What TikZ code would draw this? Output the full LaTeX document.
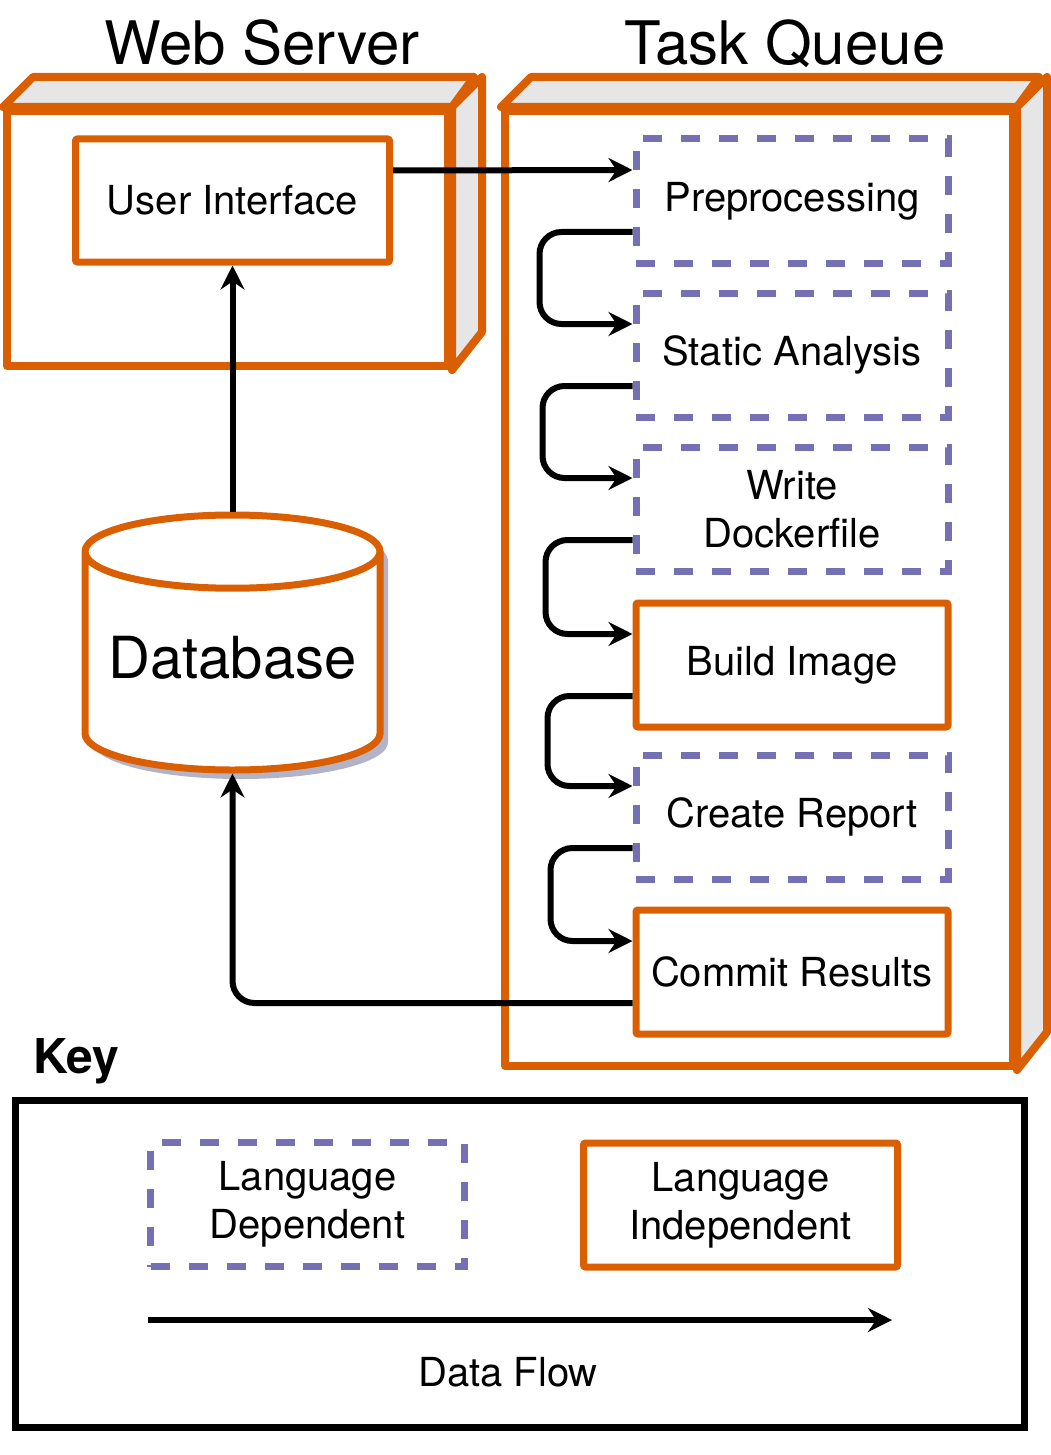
\documentclass[tikz,border=0pt]{standalone}
\usepackage{fontspec}
\setmainfont{TeX Gyre Heros}
\usetikzlibrary{arrows.meta,shapes.geometric,shadows}
\definecolor{dforange}{HTML}{D95F02}
\definecolor{dfpurple}{HTML}{7570B3}
\definecolor{dfgray}{HTML}{E6E6E6}
\definecolor{dbshadow}{RGB}{178,178,200}

\begin{document}
\begin{tikzpicture}[x=0.5pt, y=-0.5pt,
  tasknode/.style={draw=dforange, line width=3.5pt, rounded corners=1pt, minimum width=156pt, minimum height=62pt, inner sep=0pt, align=center, font=\fontsize{20}{24}\selectfont},
  dashnode/.style={tasknode, draw=dfpurple, rounded corners=0pt, dash pattern=on 9.5pt off 9.5pt},
  frontface/.style={draw=dforange, line width=4pt, fill=white, inner sep=0pt, line join=round},
  sideface/.style={draw=dforange, line width=4pt, fill=dfgray, line join=round},
  flow/.style={-{Stealth[length=12pt,width=12pt,inset=4pt]}, line width=3pt, rounded corners=11pt},
  titlenode/.style={anchor=base, font=\fontsize{30}{36}\selectfont}]
\useasboundingbox (0,0) rectangle (1050,1455);
% Titles
\node[titlenode] (wstitle) at (262,65) {Web Server};
\node[titlenode] (tqtitle) at (785,65) {Task Queue};
% Web server box
\node[frontface, minimum width=220.5pt, minimum height=127.5pt] (ws) at (227.5,238.5) {};
\draw[sideface] (ws.north west) -- ++(30,-30) -- ++(441,0) -- (ws.north east) -- cycle;
\draw[sideface] (ws.north east) -- ++(30,-30) -- ++(0,255) -- (ws.south east) -- cycle;
% Task queue box
\node[frontface, minimum width=254pt, minimum height=477.5pt] (tq) at (759,588.5) {};
\draw[sideface] (tq.north west) -- ++(30,-30) -- ++(508,0) -- (tq.north east) -- cycle;
\draw[sideface] (tq.north east) -- ++(30,-30) -- ++(0,955) -- (tq.south east) -- cycle;
% User interface and database
\node[tasknode, minimum width=157pt, minimum height=61.5pt] (ui) at (232.5,200.5) {User Interface};
\node[cylinder, shape border rotate=90, aspect=0.28, draw=dforange, line width=3.5pt, fill=white,
  minimum width=147.5pt, minimum height=127.5pt, font=\fontsize{29}{34}\selectfont, text depth=11pt, anchor=shape center,
  drop shadow={shadow xshift=4pt, shadow yshift=-4.5pt, fill=dbshadow, opacity=1}] (db) at (232.5,642.5) {Database};
% Tasks
\node[dashnode] (pre) at (792,201) {Preprocessing};
\node[dashnode] (sa) at (792,355) {Static Analysis};
\node[dashnode] (wd) at (792,509) {Write\\Dockerfile};
\node[tasknode] (bi) at (792,665) {Build Image};
\node[dashnode] (cr) at (792,817) {Create Report};
\node[tasknode] (cm) at (792,972) {Commit Results};
% Data flow
\draw[flow] ([yshift=15pt]ui.east) -- ([yshift=15.5pt]pre.west);
\draw[flow] ([yshift=-15.5pt]pre.west) -- ++(-93,0) |- ([yshift=15.5pt]sa.west);
\draw[flow] ([yshift=-15.5pt]sa.west) -- ++(-90,0) |- ([yshift=15.5pt]wd.west);
\draw[flow] ([yshift=-15.5pt]wd.west) -- ++(-87,0) |- ([yshift=15.5pt]bi.west);
\draw[flow] ([yshift=-15.5pt]bi.west) -- ++(-85,0) |- ([yshift=15.5pt]cr.west);
\draw[flow] ([yshift=-15.5pt]cr.west) -- ++(-82,0) |- ([yshift=15.5pt]cm.west);
\draw[flow] ([yshift=-15.5pt]cm.west) -| (db.south);
\draw[flow] (db.north) -- (ui.south);
% Key
\node[anchor=base west, font=\fontsize{24}{28}\selectfont\bfseries] (keylabel) at (26,1073) {Key};
\node[draw, line width=3.5pt, minimum width=504.5pt, minimum height=163.5pt] (key) at (519.5,1263.5) {};
\node[dashnode, minimum width=157pt] (dep) at (307.5,1204.5) {Language\\Dependent};
\node[tasknode, minimum width=157pt] (indep) at (740.5,1205) {Language\\Independent};
\coordinate (dfstart) at (148,1320);
\coordinate (dfend) at (892,1320);
\draw[flow] (dfstart) -- (dfend);
\node[font=\fontsize{20}{24}\selectfont] (dflabel) at (508,1372) {Data Flow};
\end{tikzpicture}
\end{document}
